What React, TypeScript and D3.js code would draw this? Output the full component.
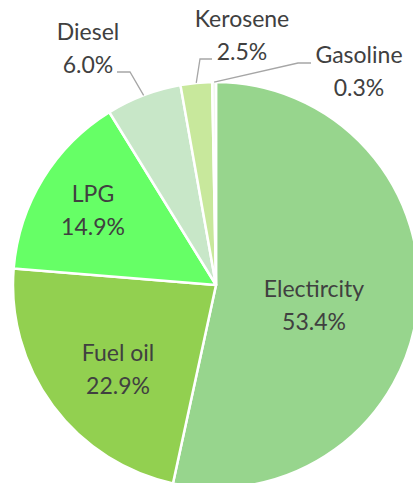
import React from "react";
import * as d3 from "d3";

// fuel share data
const categories = ["Electircity", "Fuel oil", "LPG", "Diesel", "Kerosene", "Gasoline"];
const shares = [53.4, 22.9, 14.9, 6.0, 2.5, 0.3];
const colors = ["#97D58D", "#92D050", "#66FF66", "#C8E7C8", "#C8E89C", "#EEF7E8"];

// label placement (text anchor center, first baseline)
const labelPos: [number, number][] = [
  [314, 297],
  [118, 361],
  [93, 202],
  [88, 40],
  [242, 27],
  [359, 63],
];
// leader lines for outside labels: [elbow, end near label]
const leaders: ([number, number][] | null)[] = [
  null,
  null,
  null,
  [[130, 72], [117, 72]],
  [[200, 59], [212, 59]],
  [[298, 63], [311, 63]],
];

const W = 413;
const H = 483;
const cx = 216;
const cy = 285;
const radius = 203;

export default function App() {
  const pie = d3
    .pie<number>()
    .sort(null)
    .value((d) => d);
  const arcs = pie(shares);
  const arc = d3.arc<d3.PieArcDatum<number>>().innerRadius(0).outerRadius(radius);

  return (
    <svg
      width={W}
      height={H}
      style={{ position: "absolute", left: 0, top: 0, background: "#fff" }}
      fontFamily="Lato, 'Open Sans', sans-serif"
    >
      <g transform={`translate(${cx},${cy})`}>
        {arcs.map((a, i) => (
          <path key={i} d={arc(a) || ""} fill={colors[i]} stroke="#fff" strokeWidth={2.5} strokeLinejoin="round" />
        ))}
      </g>
      {arcs.map((a, i) => {
        const pts = leaders[i];
        if (!pts) return null;
        const mid = (a.startAngle + a.endAngle) / 2;
        const start: [number, number] = [cx + radius * Math.sin(mid), cy - radius * Math.cos(mid)];
        const line = d3.line()([start, ...pts]);
        return <path key={"l" + i} d={line || ""} fill="none" stroke="#A6A6A6" strokeWidth={1.3} />;
      })}
      {categories.map((c, i) => (
        <text key={"t" + i} textAnchor="middle" fontSize={23} fill="#404040">
          <tspan x={labelPos[i][0]} y={labelPos[i][1]}>
            {c}
          </tspan>
          <tspan x={labelPos[i][0]} y={labelPos[i][1] + 33}>
            {shares[i].toFixed(1)}%
          </tspan>
        </text>
      ))}
    </svg>
  );
}
